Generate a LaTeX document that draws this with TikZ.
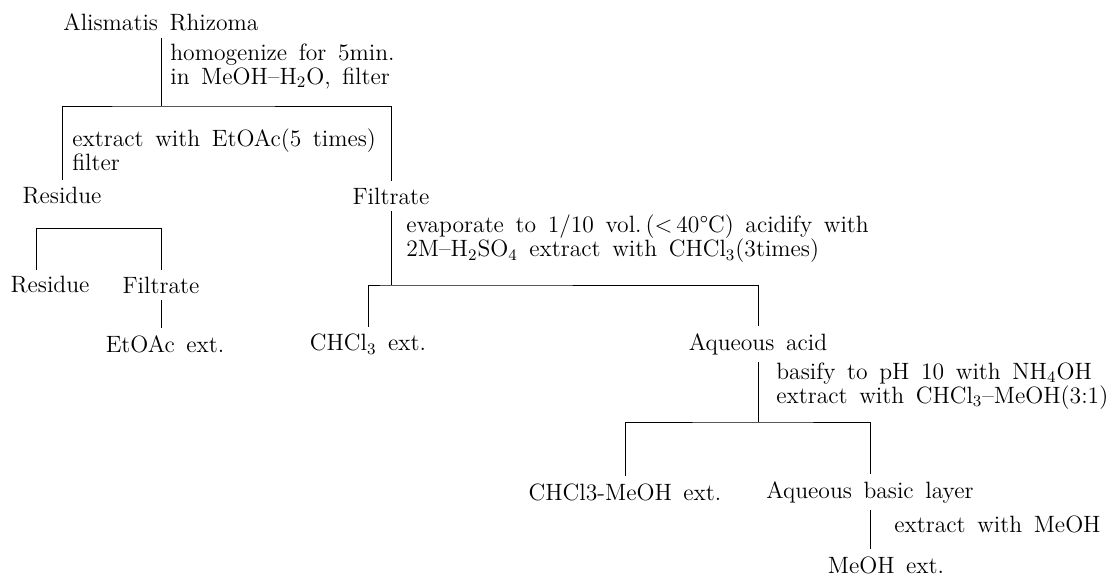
\documentclass[tikz,border=0pt]{standalone}
\usepackage{fontspec}
\usepackage{tikz}
\newcommand\flowfont{\fontsize{11.8}{12}\selectfont\spaceskip=5.8pt plus 1pt minus 1pt\relax}

\begin{document}
\begin{tikzpicture}[x=0.5pt,y=-0.5pt,
  every node/.style={font=\flowfont},
  note/.style={anchor=west,align=left,inner sep=0pt}]
  \useasboundingbox (0,0) rectangle (1119,578);
  % first split
  \node (root) at (161,22) {Alismatis Rhizoma};
  \coordinate (s1) at (161,106);
  \node (res1) at (62,196) {Residue};
  \node (fil1) at (391,196) {Filtrate};
  \draw (root) -- (s1);
  \draw (res1) |- (s1) -| (fil1);
  \node[note] (a1) at (170,66) {homogenize for 5min.\\in MeOH--H$_2$O, filter};
  \node[note] (a2) at (72,150) {extract with EtOAc(5 times)\\filter};
  % residue
  \coordinate (s2) at (36,228);
  \node (res2) at (50,285) {Residue};
  \node (fil2) at (161,285) {Filtrate};
  \node (ext1) at (165,344) {EtOAc ext.};
  \draw (res2.north -| s2) -- (s2) -| (fil2);
  \draw (fil2) -- (fil2 |- ext1.north);
  % filtrate
  \coordinate (s3) at (391,285);
  \node (chl) at (368,344) {CHCl$_3$ ext.};
  \node (aq1) at (758,344) {Aqueous acid};
  \draw (fil1) -- (s3);
  \draw (chl) |- (s3) -| (aq1);
  \node[note] (a3) at (406,239) {evaporate to 1/10 vol.\,(<\,40°C) acidify with\\2M--H$_2$SO$_4$ extract with CHCl$_3$(3times)};
  % aqueous acid
  \coordinate (s4) at (758,422);
  \node (chm) at (625,492) {CHCl3-MeOH ext.};
  \node (aqb) at (870,492) {Aqueous basic layer};
  \draw (aq1) -- (s4);
  \draw (chm) |- (s4) -| (aqb);
  \node[note] (a4) at (776,386) {basify to pH 10 with NH$_4$OH\\extract with CHCl$_3$--MeOH(3:1)};
  % last step
  \node (meo) at (886,565) {MeOH ext.};
  \draw (aqb) -- (aqb |- meo.north);
  \node[note] (a5) at (894,524) {extract with MeOH};
\end{tikzpicture}
\end{document}
